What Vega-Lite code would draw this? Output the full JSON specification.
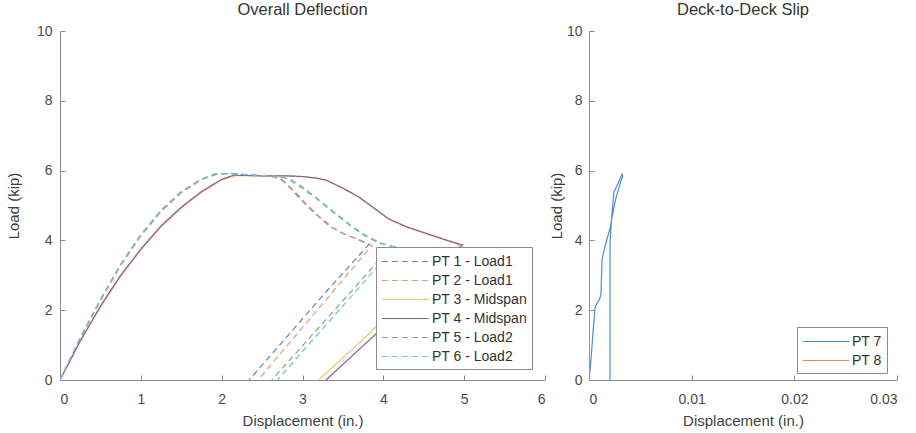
{
  "$schema": "https://vega.github.io/schema/vega-lite/v6.json",
  "padding": {"left": 6, "top": 1, "right": 5, "bottom": 5},
  "background": "white",
  "spacing": 44,
  "bounds": "flush",
  "config": {
    "view": {"stroke": null},
    "font": "Liberation Sans",
    "axis": {
      "grid": false,
      "domainColor": "#8c8c8c",
      "tickColor": "#8c8c8c",
      "tickSize": -5,
      "labelColor": "#4a4a4a",
      "labelFont": "Liberation Sans",
      "labelFontSize": 14,
      "titleFont": "Liberation Sans",
      "titleFontSize": 15,
      "titleFontWeight": "normal",
      "titleColor": "#404040"
    },
    "title": {"font": "Liberation Sans", "fontSize": 16.5, "fontWeight": "normal", "color": "#333333", "offset": 6},
    "legend": {
      "labelFont": "Liberation Sans",
      "labelFontSize": 14,
      "labelColor": "#333333",
      "fillColor": "white",
      "strokeColor": "#8c8c8c",
      "padding": 5,
      "symbolStrokeWidth": 1.2,
      "symbolType": "M-1,0H4.4",
      "symbolSize": 300,
      "labelOffset": 32,
      "rowPadding": 2
    }
  },
  "datasets": {
    "deflection": [
      {"s":"PT 1 - Load1","i":0,"x":0,"y":0},{"s":"PT 1 - Load1","i":1,"x":0.25,"y":1.2},{"s":"PT 1 - Load1","i":2,"x":0.5,"y":2.3},{"s":"PT 1 - Load1","i":3,"x":0.75,"y":3.3},{"s":"PT 1 - Load1","i":4,"x":1.0,"y":4.15},{"s":"PT 1 - Load1","i":5,"x":1.25,"y":4.85},{"s":"PT 1 - Load1","i":6,"x":1.5,"y":5.38},{"s":"PT 1 - Load1","i":7,"x":1.75,"y":5.75},{"s":"PT 1 - Load1","i":8,"x":1.93,"y":5.9},{"s":"PT 1 - Load1","i":9,"x":2.1,"y":5.92},{"s":"PT 1 - Load1","i":10,"x":2.4,"y":5.87},{"s":"PT 1 - Load1","i":11,"x":2.6,"y":5.84},{"s":"PT 1 - Load1","i":12,"x":2.72,"y":5.78},{"s":"PT 1 - Load1","i":13,"x":2.85,"y":5.5},{"s":"PT 1 - Load1","i":14,"x":3.0,"y":5.12},{"s":"PT 1 - Load1","i":15,"x":3.15,"y":4.78},{"s":"PT 1 - Load1","i":16,"x":3.33,"y":4.42},{"s":"PT 1 - Load1","i":17,"x":3.5,"y":4.2},{"s":"PT 1 - Load1","i":18,"x":3.66,"y":4.05},{"s":"PT 1 - Load1","i":19,"x":3.82,"y":3.88},{"s":"PT 1 - Load1","i":20,"x":3.3,"y":2.55},{"s":"PT 1 - Load1","i":21,"x":2.8,"y":1.22},{"s":"PT 1 - Load1","i":22,"x":2.34,"y":0},
      {"s":"PT 2 - Load1","i":0,"x":0,"y":0},{"s":"PT 2 - Load1","i":1,"x":0.25,"y":1.18},{"s":"PT 2 - Load1","i":2,"x":0.5,"y":2.27},{"s":"PT 2 - Load1","i":3,"x":0.75,"y":3.27},{"s":"PT 2 - Load1","i":4,"x":1.0,"y":4.12},{"s":"PT 2 - Load1","i":5,"x":1.25,"y":4.82},{"s":"PT 2 - Load1","i":6,"x":1.5,"y":5.36},{"s":"PT 2 - Load1","i":7,"x":1.75,"y":5.74},{"s":"PT 2 - Load1","i":8,"x":1.95,"y":5.9},{"s":"PT 2 - Load1","i":9,"x":2.1,"y":5.91},{"s":"PT 2 - Load1","i":10,"x":2.4,"y":5.86},{"s":"PT 2 - Load1","i":11,"x":2.62,"y":5.83},{"s":"PT 2 - Load1","i":12,"x":2.75,"y":5.74},{"s":"PT 2 - Load1","i":13,"x":2.9,"y":5.42},{"s":"PT 2 - Load1","i":14,"x":3.05,"y":5.04},{"s":"PT 2 - Load1","i":15,"x":3.2,"y":4.7},{"s":"PT 2 - Load1","i":16,"x":3.38,"y":4.36},{"s":"PT 2 - Load1","i":17,"x":3.55,"y":4.15},{"s":"PT 2 - Load1","i":18,"x":3.7,"y":4.02},{"s":"PT 2 - Load1","i":19,"x":3.86,"y":3.86},{"s":"PT 2 - Load1","i":20,"x":3.4,"y":2.6},{"s":"PT 2 - Load1","i":21,"x":2.9,"y":1.23},{"s":"PT 2 - Load1","i":22,"x":2.45,"y":0},
      {"s":"PT 3 - Midspan","i":0,"x":0,"y":0},{"s":"PT 3 - Midspan","i":1,"x":0.25,"y":1.1},{"s":"PT 3 - Midspan","i":2,"x":0.5,"y":2.08},{"s":"PT 3 - Midspan","i":3,"x":0.75,"y":2.96},{"s":"PT 3 - Midspan","i":4,"x":1.0,"y":3.72},{"s":"PT 3 - Midspan","i":5,"x":1.25,"y":4.38},{"s":"PT 3 - Midspan","i":6,"x":1.5,"y":4.92},{"s":"PT 3 - Midspan","i":7,"x":1.75,"y":5.37},{"s":"PT 3 - Midspan","i":8,"x":2.0,"y":5.73},{"s":"PT 3 - Midspan","i":9,"x":2.18,"y":5.86},{"s":"PT 3 - Midspan","i":10,"x":2.5,"y":5.84},{"s":"PT 3 - Midspan","i":11,"x":2.8,"y":5.85},{"s":"PT 3 - Midspan","i":12,"x":3.0,"y":5.83},{"s":"PT 3 - Midspan","i":13,"x":3.15,"y":5.79},{"s":"PT 3 - Midspan","i":14,"x":3.29,"y":5.72},{"s":"PT 3 - Midspan","i":15,"x":3.5,"y":5.49},{"s":"PT 3 - Midspan","i":16,"x":3.7,"y":5.23},{"s":"PT 3 - Midspan","i":17,"x":3.9,"y":4.89},{"s":"PT 3 - Midspan","i":18,"x":4.07,"y":4.6},{"s":"PT 3 - Midspan","i":19,"x":4.3,"y":4.37},{"s":"PT 3 - Midspan","i":20,"x":4.48,"y":4.23},{"s":"PT 3 - Midspan","i":21,"x":4.75,"y":4.02},{"s":"PT 3 - Midspan","i":22,"x":4.95,"y":3.86},{"s":"PT 3 - Midspan","i":23,"x":4.45,"y":2.85},{"s":"PT 3 - Midspan","i":24,"x":3.85,"y":1.38},{"s":"PT 3 - Midspan","i":25,"x":3.2,"y":0},
      {"s":"PT 4 - Midspan","i":0,"x":0,"y":0},{"s":"PT 4 - Midspan","i":1,"x":0.25,"y":1.12},{"s":"PT 4 - Midspan","i":2,"x":0.5,"y":2.12},{"s":"PT 4 - Midspan","i":3,"x":0.75,"y":3.0},{"s":"PT 4 - Midspan","i":4,"x":1.0,"y":3.75},{"s":"PT 4 - Midspan","i":5,"x":1.25,"y":4.42},{"s":"PT 4 - Midspan","i":6,"x":1.5,"y":4.95},{"s":"PT 4 - Midspan","i":7,"x":1.75,"y":5.4},{"s":"PT 4 - Midspan","i":8,"x":2.0,"y":5.75},{"s":"PT 4 - Midspan","i":9,"x":2.15,"y":5.87},{"s":"PT 4 - Midspan","i":10,"x":2.5,"y":5.85},{"s":"PT 4 - Midspan","i":11,"x":2.8,"y":5.85},{"s":"PT 4 - Midspan","i":12,"x":3.0,"y":5.83},{"s":"PT 4 - Midspan","i":13,"x":3.15,"y":5.79},{"s":"PT 4 - Midspan","i":14,"x":3.29,"y":5.73},{"s":"PT 4 - Midspan","i":15,"x":3.5,"y":5.5},{"s":"PT 4 - Midspan","i":16,"x":3.7,"y":5.24},{"s":"PT 4 - Midspan","i":17,"x":3.9,"y":4.9},{"s":"PT 4 - Midspan","i":18,"x":4.07,"y":4.61},{"s":"PT 4 - Midspan","i":19,"x":4.3,"y":4.38},{"s":"PT 4 - Midspan","i":20,"x":4.48,"y":4.24},{"s":"PT 4 - Midspan","i":21,"x":4.75,"y":4.03},{"s":"PT 4 - Midspan","i":22,"x":4.98,"y":3.87},{"s":"PT 4 - Midspan","i":23,"x":4.5,"y":2.85},{"s":"PT 4 - Midspan","i":24,"x":3.9,"y":1.3},{"s":"PT 4 - Midspan","i":25,"x":3.29,"y":0},
      {"s":"PT 5 - Load2","i":0,"x":0,"y":0},{"s":"PT 5 - Load2","i":1,"x":0.25,"y":1.21},{"s":"PT 5 - Load2","i":2,"x":0.5,"y":2.31},{"s":"PT 5 - Load2","i":3,"x":0.75,"y":3.31},{"s":"PT 5 - Load2","i":4,"x":1.0,"y":4.17},{"s":"PT 5 - Load2","i":5,"x":1.25,"y":4.87},{"s":"PT 5 - Load2","i":6,"x":1.5,"y":5.4},{"s":"PT 5 - Load2","i":7,"x":1.75,"y":5.76},{"s":"PT 5 - Load2","i":8,"x":1.92,"y":5.91},{"s":"PT 5 - Load2","i":9,"x":2.1,"y":5.92},{"s":"PT 5 - Load2","i":10,"x":2.4,"y":5.87},{"s":"PT 5 - Load2","i":11,"x":2.65,"y":5.84},{"s":"PT 5 - Load2","i":12,"x":2.8,"y":5.78},{"s":"PT 5 - Load2","i":13,"x":2.95,"y":5.58},{"s":"PT 5 - Load2","i":14,"x":3.17,"y":5.2},{"s":"PT 5 - Load2","i":15,"x":3.35,"y":4.86},{"s":"PT 5 - Load2","i":16,"x":3.58,"y":4.44},{"s":"PT 5 - Load2","i":17,"x":3.75,"y":4.16},{"s":"PT 5 - Load2","i":18,"x":3.95,"y":3.92},{"s":"PT 5 - Load2","i":19,"x":4.1,"y":3.84},{"s":"PT 5 - Load2","i":20,"x":3.6,"y":2.53},{"s":"PT 5 - Load2","i":21,"x":3.1,"y":1.24},{"s":"PT 5 - Load2","i":22,"x":2.62,"y":0},
      {"s":"PT 6 - Load2","i":0,"x":0,"y":0},{"s":"PT 6 - Load2","i":1,"x":0.25,"y":1.2},{"s":"PT 6 - Load2","i":2,"x":0.5,"y":2.3},{"s":"PT 6 - Load2","i":3,"x":0.75,"y":3.3},{"s":"PT 6 - Load2","i":4,"x":1.0,"y":4.16},{"s":"PT 6 - Load2","i":5,"x":1.25,"y":4.86},{"s":"PT 6 - Load2","i":6,"x":1.5,"y":5.39},{"s":"PT 6 - Load2","i":7,"x":1.75,"y":5.75},{"s":"PT 6 - Load2","i":8,"x":1.94,"y":5.9},{"s":"PT 6 - Load2","i":9,"x":2.1,"y":5.91},{"s":"PT 6 - Load2","i":10,"x":2.4,"y":5.87},{"s":"PT 6 - Load2","i":11,"x":2.7,"y":5.83},{"s":"PT 6 - Load2","i":12,"x":2.85,"y":5.76},{"s":"PT 6 - Load2","i":13,"x":3.0,"y":5.54},{"s":"PT 6 - Load2","i":14,"x":3.22,"y":5.14},{"s":"PT 6 - Load2","i":15,"x":3.4,"y":4.8},{"s":"PT 6 - Load2","i":16,"x":3.62,"y":4.4},{"s":"PT 6 - Load2","i":17,"x":3.8,"y":4.12},{"s":"PT 6 - Load2","i":18,"x":4.0,"y":3.9},{"s":"PT 6 - Load2","i":19,"x":4.15,"y":3.82},{"s":"PT 6 - Load2","i":20,"x":3.7,"y":2.65},{"s":"PT 6 - Load2","i":21,"x":3.2,"y":1.34},{"s":"PT 6 - Load2","i":22,"x":2.69,"y":0}
    ],
    "slip": [
      {"s":"PT 7","i":0,"x":0,"y":0},{"s":"PT 7","i":1,"x":0.0002,"y":0.6},{"s":"PT 7","i":2,"x":0.0004,"y":1.4},{"s":"PT 7","i":3,"x":0.0006,"y":2.1},{"s":"PT 7","i":4,"x":0.00078,"y":2.2},{"s":"PT 7","i":5,"x":0.001,"y":2.3},{"s":"PT 7","i":6,"x":0.00117,"y":2.45},{"s":"PT 7","i":7,"x":0.00127,"y":3.45},{"s":"PT 7","i":8,"x":0.0015,"y":3.75},{"s":"PT 7","i":9,"x":0.00175,"y":4.04},{"s":"PT 7","i":10,"x":0.00214,"y":4.44},{"s":"PT 7","i":11,"x":0.00228,"y":4.9},{"s":"PT 7","i":12,"x":0.00243,"y":5.39},{"s":"PT 7","i":13,"x":0.0029,"y":5.67},{"s":"PT 7","i":14,"x":0.0032,"y":5.9},{"s":"PT 7","i":15,"x":0.0033,"y":5.85},{"s":"PT 7","i":16,"x":0.0031,"y":5.7},{"s":"PT 7","i":17,"x":0.0026,"y":5.19},{"s":"PT 7","i":18,"x":0.0022,"y":4.6},{"s":"PT 7","i":19,"x":0.00205,"y":3.95},{"s":"PT 7","i":20,"x":0.00205,"y":0},
      {"s":"PT 8","i":0,"x":0,"y":0},{"s":"PT 8","i":1,"x":0,"y":1.0},{"s":"PT 8","i":2,"x":0.00002,"y":2.0}
    ]
  },
  "hconcat": [
    {
      "width": 485,
      "height": 349,
      "title": "Overall Deflection",
      "data": {"name": "deflection"},
      "mark": {"type": "line", "strokeWidth": 1.2, "clip": true},
      "encoding": {
        "x": {"field": "x", "type": "quantitative", "scale": {"domain": [0, 6], "nice": false},
              "axis": {"values": [0,1,2,3,4,5,6], "format": "d", "title": "Displacement (in.)", "labelPadding": 17, "titlePadding": 7}},
        "y": {"field": "y", "type": "quantitative", "scale": {"domain": [0, 10], "nice": false},
              "axis": {"values": [0,2,4,6,8,10], "format": "d", "title": "Load (kip)", "labelPadding": 13, "titlePadding": 15}},
        "detail": {"field": "s"},
        "order": {"field": "i", "type": "quantitative"},
        "color": {"field": "s", "type": "nominal",
          "scale": {"domain": ["PT 1 - Load1","PT 2 - Load1","PT 3 - Midspan","PT 4 - Midspan","PT 5 - Load2","PT 6 - Load2"],
                    "range": ["#5f86ad","#e59a72","#efc468","#8d5a9a","#86a867","#74c4e6"]},
          "legend": {"title": null, "orient": "none", "legendX": 316, "legendY": 216}},
        "strokeDash": {"field": "s", "type": "nominal",
          "scale": {"domain": ["PT 1 - Load1","PT 2 - Load1","PT 3 - Midspan","PT 4 - Midspan","PT 5 - Load2","PT 6 - Load2"],
                    "range": [[6,4],[6,4],[1,0],[1,0],[6,4],[6,4]]},
          "legend": {"title": null, "orient": "none", "legendX": 316, "legendY": 216}}
      }
    },
    {
      "width": 308,
      "height": 349,
      "title": "Deck-to-Deck Slip",
      "data": {"name": "slip"},
      "mark": {"type": "line", "strokeWidth": 1.2, "clip": true},
      "encoding": {
        "x": {"field": "x", "type": "quantitative", "scale": {"domain": [0, 0.03], "nice": false},
              "axis": {"values": [0,0.01,0.02,0.03], "format": "~g", "title": "Displacement (in.)", "labelPadding": 17, "titlePadding": 7}},
        "y": {"field": "y", "type": "quantitative", "scale": {"domain": [0, 10], "nice": false},
              "axis": {"values": [0,2,4,6,8,10], "format": "d", "title": "Load (kip)", "labelPadding": 12, "titlePadding": 2}},
        "detail": {"field": "s"},
        "order": {"field": "i", "type": "quantitative"},
        "color": {"field": "s", "type": "nominal",
          "scale": {"domain": ["PT 7","PT 8"], "range": ["#4a8fcc","#e08a60"]},
          "legend": {"title": null, "orient": "none", "legendX": 208, "legendY": 296, "labelOffset": 31}}
      }
    }
  ],
  "resolve": {"scale": {"color": "independent", "strokeDash": "independent", "x": "independent", "y": "independent"}, "legend": {"color": "independent", "strokeDash": "independent"}}
}
